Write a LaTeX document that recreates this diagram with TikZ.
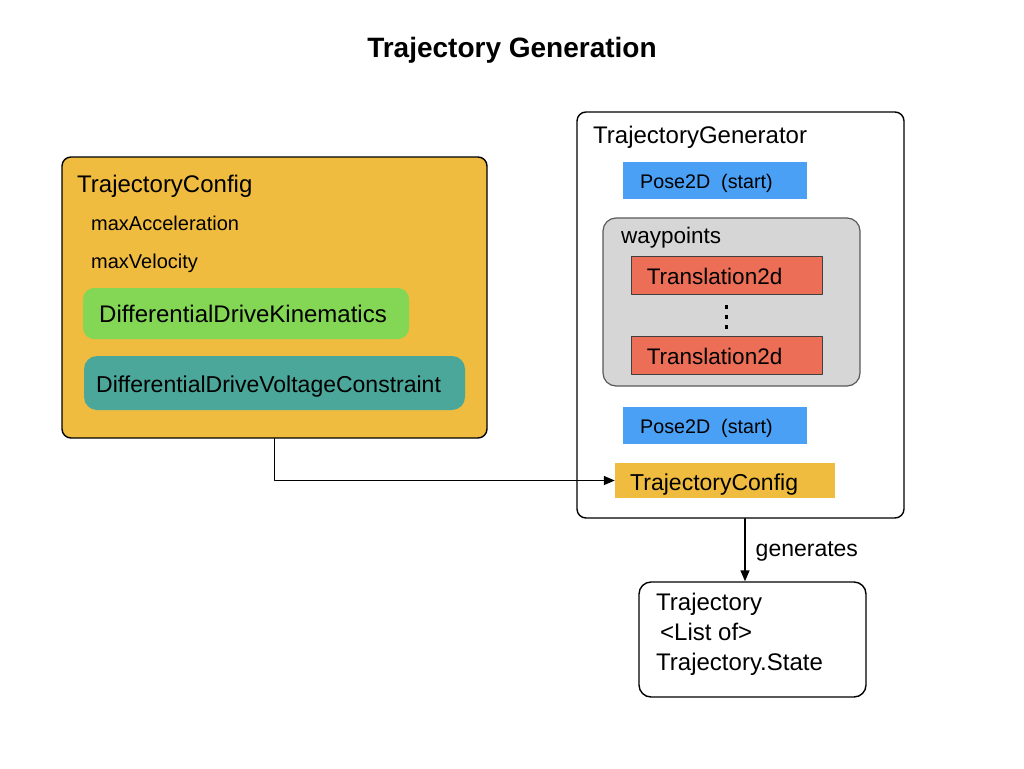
\documentclass[tikz,border=0pt]{standalone}
\usepackage{fontspec}
\setmainfont{Liberation Sans}
\usetikzlibrary{arrows.meta,positioning,fit}
% colours
\definecolor{cfgyellow}{RGB}{239,188,64}
\definecolor{kingreen}{RGB}{131,215,85}
\definecolor{voltteal}{RGB}{74,167,154}
\definecolor{poseblue}{RGB}{74,160,245}
\definecolor{transred}{RGB}{236,110,87}
\definecolor{wpgray}{RGB}{214,214,214}
\begin{document}
\begin{tikzpicture}[x=1pt, y=-1pt, line join=round, line cap=round, >={Triangle[length=11pt,width=9pt]}]
	% styles
	\tikzset{
		box/.style={draw, line width=1.4pt, rounded corners=9pt, inner sep=0pt},
		bar/.style={inner sep=0pt},
		lbl/.style={anchor=base west, inner sep=0pt, font=\fontsize{24}{28}\selectfont},
		attr/.style={anchor=base west, inner sep=0pt, font=\fontsize{20}{24}\selectfont},
	}
	\useasboundingbox (0,0) rectangle (1024,768);
	% title
	\node[anchor=base, inner sep=0pt, font=\fontsize{28}{33}\selectfont\bfseries] (title) at (512,57) {Trajectory Generation};
	% TrajectoryConfig
	\node[box, fill=cfgyellow, fit={(62,157) (487,438)}] (cfg) {};
	\node[lbl] (cfgname) at (77,192) {TrajectoryConfig};
	\node[attr] (acc) at (91,230) {maxAcceleration};
	\node[attr] (vel) at (91,268) {maxVelocity};
	\node[box, draw=none, fill=kingreen, rounded corners=11pt, fit={(83,288) (409,339)}] (kin) {};
	\node[lbl] (kinname) at (99,322) {DifferentialDriveKinematics};
	\node[box, draw=none, fill=voltteal, rounded corners=13pt, fit={(84,356) (465,410)}] (volt) {};
	\node[lbl, font=\fontsize{23}{27}\selectfont] (voltname) at (96,392) {DifferentialDriveVoltageConstraint};
	% TrajectoryGenerator
	\node[box, fill=white, fit={(577,112) (904,518)}] (gen) {};
	\node[lbl] (genname) at (593,143) {TrajectoryGenerator};
	\node[bar, fill=poseblue, fit={(623,162) (807,199)}] (start) {};
	\node[attr, font=\fontsize{19.7}{24}\selectfont] (startname) at (640,188) {Pose2D\ \ (start)};
	\node[box, draw=black!65, line width=1.2pt, fill=wpgray, rounded corners=13pt, fit={(603,218) (860,386)}] (wp) {};
	\node[lbl, font=\fontsize{22.5}{26}\selectfont] (wpname) at (621,243) {waypoints};
	\foreach \n/\t/\b in {trA/256/294, trB/336/374}{
		\node[bar, draw=black!75, line width=0.8pt, fill=transred, fit={(631,\t) (822,\b)}] (\n) {};
		\node[lbl, font=\fontsize{22.5}{26}\selectfont, anchor=base west] at ([shift={(16,-10)}]\n.south west) {Translation2d};
	}
	\foreach \y in {307,317,327}
		\fill (724.5,\y-1.6) rectangle ++(3.2,3.2);
	\node[bar, fill=poseblue, fit={(623,407) (807,444)}] (end) {};
	\node[attr, font=\fontsize{19.7}{24}\selectfont] (endname) at (640,433) {Pose2D\ \ (start)};
	\node[bar, fill=cfgyellow, fit={(615,463) (835,498)}] (gencfg) {};
	\node[lbl, font=\fontsize{23}{27}\selectfont] (gencfgname) at (630,490) {TrajectoryConfig};
	% Trajectory
	\node[box, fill=white, rounded corners=12pt, fit={(639,582) (866,697)}] (traj) {};
	\node[lbl] (t1) at (656,610) {Trajectory};
	\node[lbl] (t2) at (660,640) {<List of>};
	\node[lbl] (t3) at (656,670) {Trajectory.State};
	% connectors
	\draw[->, line width=1.4pt] (cfg.south) |- (gencfg.west);
	\draw[->, line width=1.4pt] ([xshift=4.5pt]gen.south) -- ([xshift=4.5pt]gen.south |- traj.north)
		node[lbl, font=\fontsize{23}{27}\selectfont, midway, xshift=10pt, yshift=-1pt, anchor=west] (gentext) {generates};
\end{tikzpicture}
\end{document}
